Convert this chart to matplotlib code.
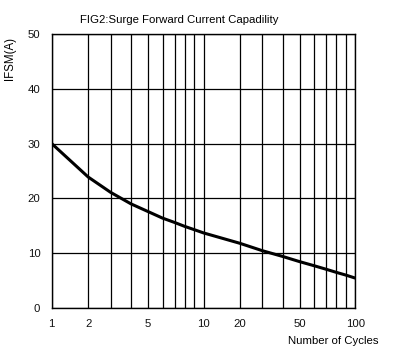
import numpy as np
import matplotlib
matplotlib.use("Agg")
import matplotlib.pyplot as plt
from matplotlib.ticker import FixedLocator, NullLocator

# surge curve
cycles = [1, 2, 3, 4, 5, 6, 7, 8, 9, 10, 20, 30, 40, 50, 60, 70, 80, 90, 100]
ifsm = [30.0, 23.9, 21.1, 19.0, 17.6, 16.4, 15.6, 14.9, 14.3, 13.7,
        11.8, 10.45, 9.4, 8.45, 7.7, 7.05, 6.5, 6.0, 5.45]

grid_x = [1, 2, 3, 4, 5, 6, 7, 8, 9, 10, 20, 30, 40, 50, 60, 70, 80, 90, 100]
labelled_x = [1, 2, 5, 10, 20, 50, 100]
y_ticks = [0, 10, 20, 30, 40, 50]

# the printed "log paper" is not a true log scale; spacing of 1..10 within a decade
DECADE_LOG = np.log10(np.arange(1, 11))
DECADE_PAPER = np.array([0, 0.24, 0.388, 0.522, 0.634, 0.73, 0.81, 0.875, 0.938, 1.0])


def paper_fwd(x):
    x = np.clip(np.asarray(x, dtype=float), 1e-6, None)
    lx = np.log10(x)
    dec = np.floor(lx)
    return dec + np.interp(lx - dec, DECADE_LOG, DECADE_PAPER)


def paper_inv(u):
    u = np.asarray(u, dtype=float)
    dec = np.floor(u)
    return 10 ** (dec + np.interp(u - dec, DECADE_PAPER, DECADE_LOG))


plt.rcParams["font.family"] = ["Liberation Sans", "DejaVu Sans"]

fig = plt.figure(figsize=(3.95, 3.57), dpi=100)
ax = fig.add_axes([0.131, 0.1373, 0.7685, 0.7675])

ax.set_xscale("function", functions=(paper_fwd, paper_inv))
ax.set_xlim(1, 100)
ax.set_ylim(0, 50)

ax.xaxis.set_major_locator(FixedLocator(grid_x))
ax.xaxis.set_minor_locator(NullLocator())
ax.set_xticklabels([str(v) if v in labelled_x else "" for v in grid_x])
ax.set_yticks(y_ticks)
ax.tick_params(axis="both", length=0, labelsize=8.2, colors="#111111")
ax.tick_params(axis="x", pad=8)
ax.tick_params(axis="y", pad=8.2)

ax.grid(True, color="black", lw=0.9)
for s in ax.spines.values():
    s.set_color("black")
    s.set_linewidth(1.0)

ax.plot(cycles, ifsm, color="black", lw=2.2, solid_capstyle="butt", zorder=3)

fig.text(80 / 395, 1 - 20 / 357, "FIG2:Surge Forward Current Capadility",
         fontsize=8.2, ha="left", va="center")
fig.text(10 / 395, 1 - 58 / 357, "IFSM(A)", fontsize=8.3, rotation=90,
         ha="center", va="center")
fig.text(378 / 395, 1 - 341 / 357, "Number of Cycles", fontsize=8.2,
         ha="right", va="center")

fig.savefig("out.png", dpi=100)
